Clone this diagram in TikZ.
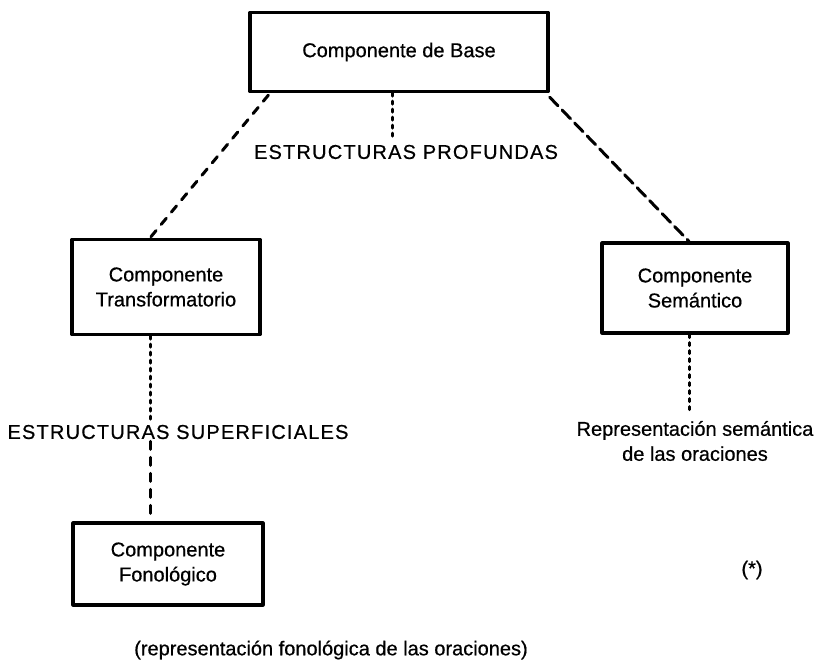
\documentclass[tikz,border=0pt]{standalone}
\usepackage{fontspec}
\setmainfont{Liberation Sans}[FakeBold=0.6]
\begin{document}
\begin{tikzpicture}[x=0.5pt, y=-0.5pt, line join=round, line cap=round, font=\fontsize{10}{12.5}\selectfont,
  comp/.style={draw, line width=1.6pt, align=center, inner sep=0pt},
  caps/.style={font=\fontsize{10}{12.5}\selectfont\addfontfeature{LetterSpace=6}},
  dashlink/.style={line width=1.5pt, dash pattern=on 4pt off 4pt},
  longdash/.style={line width=1.5pt, dash pattern=on 6pt off 3pt},
  dotlink/.style={line width=1.5pt, dash pattern=on 1.5pt off 2.5pt}]
  \useasboundingbox (0,0) rectangle (818,664);
  % recuadros
  \node[comp, minimum width=149pt, minimum height=39.5pt] (base) at (399,52) {Componente de Base};
  \node[comp, minimum width=94pt, minimum height=47.5pt] (trans) at (166,287) {Componente\\Transformatorio};
  \node[comp, minimum width=93pt, minimum height=45pt] (sem) at (695,288) {Componente\\Semántico};
  \node[comp, minimum width=95pt, minimum height=41pt] (fono) at (168,564) {Componente\\Fonológico};
  % textos
  \node[caps] (prof) at (406,152) {ESTRUCTURAS PROFUNDAS};
  \node[caps, fill=white, inner sep=1pt] (sup) at (178,432) {ESTRUCTURAS SUPERFICIALES};
  \node[align=center] (rep) at (695,441) {Representación semántica\\de las oraciones};
  \node (ast) at (752,570) {(*)};
  \node (fonrep) at (331,650) {(representación fonológica de las oraciones)};
  % enlaces
  \draw[dashlink] ([xshift=10pt,yshift=-1pt]base.south west) -- ([xshift=-8pt]trans.north);
  \draw[longdash] ([yshift=-2pt]base.south east) -- ([xshift=-3pt]sem.north);
  \draw[dotlink] ([xshift=-3.5pt]base.south) -- ([xshift=-7pt]prof.north);
  \draw[dotlink] ([xshift=-3pt]sem.south) -- ([xshift=-3pt]rep.north);
  \draw[dotlink] ([xshift=-8pt]trans.south) -- ([xshift=-8pt]trans.south |- sup.north);
  \draw[dashlink] ([xshift=-9pt]fono.north |- sup.south) -- ([xshift=-9pt]fono.north);
\end{tikzpicture}
\end{document}
